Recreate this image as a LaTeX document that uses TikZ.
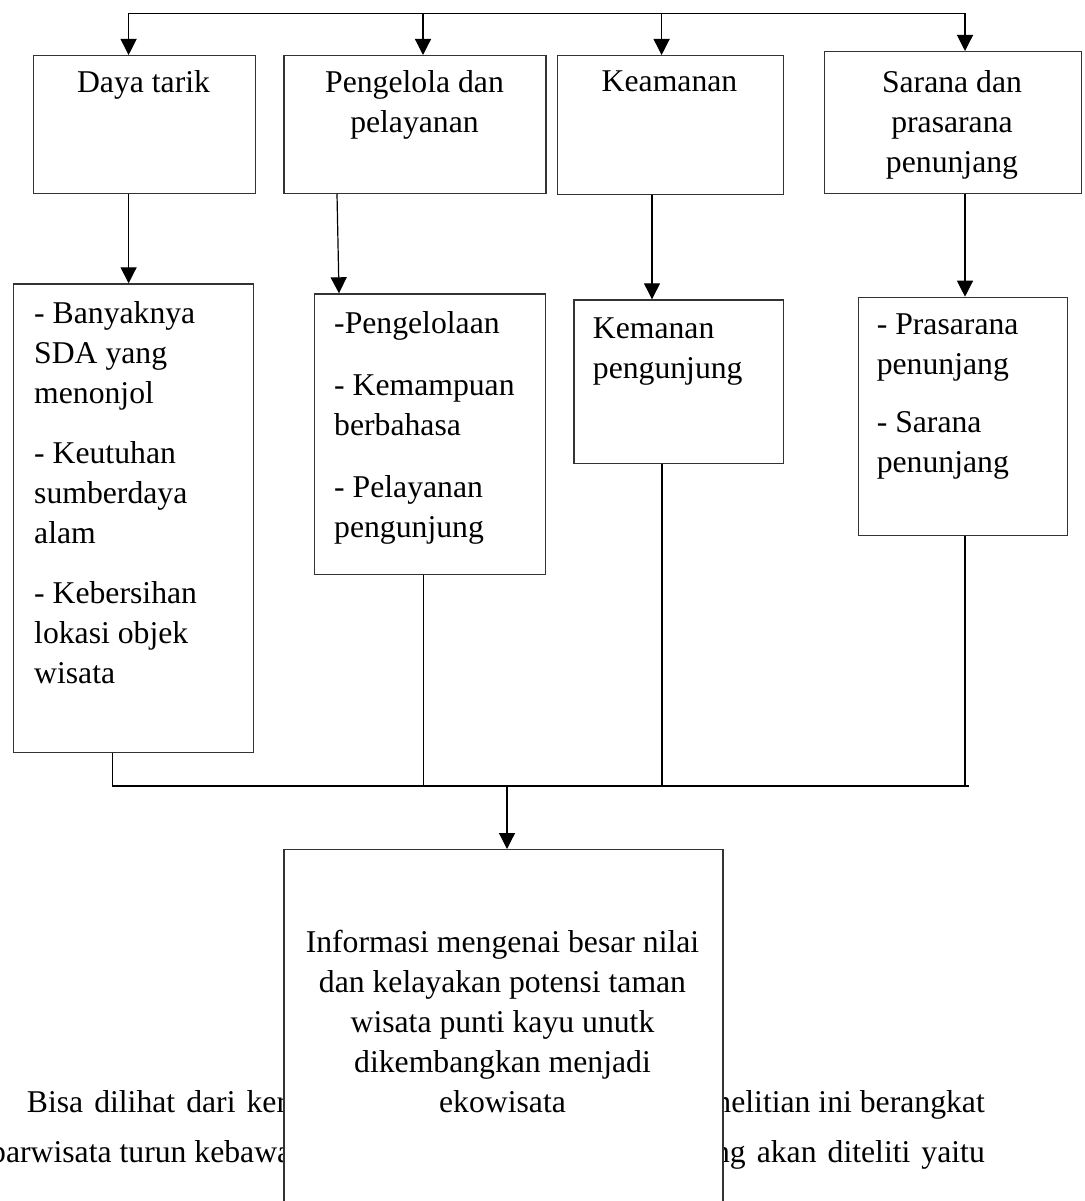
\documentclass[tikz,border=0pt]{standalone}
\usepackage{fontspec}
\setmainfont{Liberation Serif}
\usetikzlibrary{arrows.meta,calc}
\begin{document}
\begin{tikzpicture}[x=1pt,y=-1pt,
  box/.style={draw=black!80, line width=1.3pt, fill=white, inner sep=0pt, anchor=north west},
  txt/.style={inner sep=0pt, font=\fontsize{31.7}{40}\selectfont},
  bgtxt/.style={inner sep=0pt, font=\fontsize{31.7}{40}\selectfont},
  wide/.style={execute at begin node={\spaceskip=11pt\relax}},
  conn/.style={line width=1.2pt, draw=black},
  arr/.style={conn, -{Triangle[length=16pt,width=16pt]}}
]
\useasboundingbox (0,0) rectangle (1084,1201);

% top boxes
\node[box, minimum width=222pt, minimum height=137.7pt] (A) at (32.5,55) {};
\node[box, minimum width=262pt, minimum height=137.7pt] (B) at (283.4,55) {};
\node[box, minimum width=226pt, minimum height=139pt] (C) at (556.5,55) {};
\node[box, minimum width=256.5pt, minimum height=141.7pt] (D) at (824,51) {};

\node[txt, anchor=north, align=center] (tA) at (143.5,70.3) {Daya tarik};
\node[txt, anchor=north, align=center] (tB) at (414.5,70.3) {Pengelola dan\\pelayanan};
\node[txt, anchor=north, align=center] (tC) at (669.5,71) {Keamanan};
\node[txt, anchor=north, align=center] (tD) at (952,70.3) {Sarana dan\\prasarana\\penunjang};

% lower boxes
\node[box, minimum width=240pt, minimum height=468.7pt] (A2) at (13,283.3) {};
\node[box, minimum width=231.4pt, minimum height=280.7pt] (B2) at (313.6,293.3) {};
\node[box, minimum width=209.7pt, minimum height=163.4pt] (C2) at (573.3,299.3) {};
\node[box, minimum width=209.5pt, minimum height=238.3pt] (D2) at (857.5,296.7) {};

\node[txt, anchor=north west, align=left] (tA2) at (34,301.3)
  {- Banyaknya\\SDA yang\\menonjol\\[20pt]- Keutuhan\\sumberdaya\\alam\\[20pt]- Kebersihan\\lokasi objek\\wisata};
\node[txt, anchor=north west, align=left] (tB2) at (334,311.6)
  {-Pengelolaan\\[22pt]- Kemampuan\\berbahasa\\[22pt]- Pelayanan\\pengunjung};
\node[txt, anchor=north west, align=left] (tC2) at (592.7,318)
  {Kemanan\\pengunjung};
\node[txt, anchor=north west, align=left] (tD2) at (876.6,314)
  {- Prasarana\\penunjang\\[18pt]- Sarana\\penunjang};

% background paragraph fragments
\node[bgtxt, wide, anchor=base west] (p1l) at (26.7,1112) {Bisa dilihat dari ker};
\node[bgtxt, anchor=base east] (p1r) at (985,1112) {nelitian ini berangkat};
\node[bgtxt, anchor=base west] (p2l) at (-10,1162) {parwisata turun kebawa};
\node[bgtxt, wide, anchor=base east] (p2r) at (985,1162) {ng akan diteliti yaitu};

% result box
\node[box, minimum width=439pt, minimum height=420pt] (E) at (283.4,849) {};
\node[txt, anchor=north, align=center] (tE) at (502.5,929.5)
  {Informasi mengenai besar nilai\\dan kelayakan potensi taman\\wisata punti kayu unutk\\dikembangkan menjadi\\ekowisata};

% top bus
\coordinate (t1) at (128.6,13.3);
\coordinate (t2) at (423,13.3);
\coordinate (t3) at (661.6,13.3);
\coordinate (t4) at (965,13.3);
\draw[conn] (t1) -- (t4);
\draw[arr] (t1) -- (t1 |- A.north);
\draw[arr] (t2) -- (t2 |- B.north);
\draw[arr] (t3) -- (t3 |- C.north);
\draw[arr] (t4) -- (t4 |- D.north);

% middle arrows
\draw[arr] (128.6,0 |- A.south) -- (128.6,0 |- A2.north);
\draw[arr] (337,0 |- B.south) -- (339,0 |- B2.north);
\draw[arr] (652,0 |- C.south) -- (652,0 |- C2.north);
\draw[arr] (965,0 |- D.south) -- (965,0 |- D2.north);

% bottom bus
\coordinate (bL) at (112,786);
\coordinate (bR) at (969,786);
\coordinate (bM) at (507,786);
\draw[conn] (112.5,0 |- A2.south) -- (112.5,786);
\draw[conn] (423.6,0 |- B2.south) -- (423.6,786);
\draw[conn] (662,0 |- C2.south) -- (662,786);
\draw[conn] (965,0 |- D2.south) -- (965,786);
\draw[conn] (bL) -- (bR);
\draw[arr] (bM) -- (bM |- E.north);
\end{tikzpicture}
\end{document}
